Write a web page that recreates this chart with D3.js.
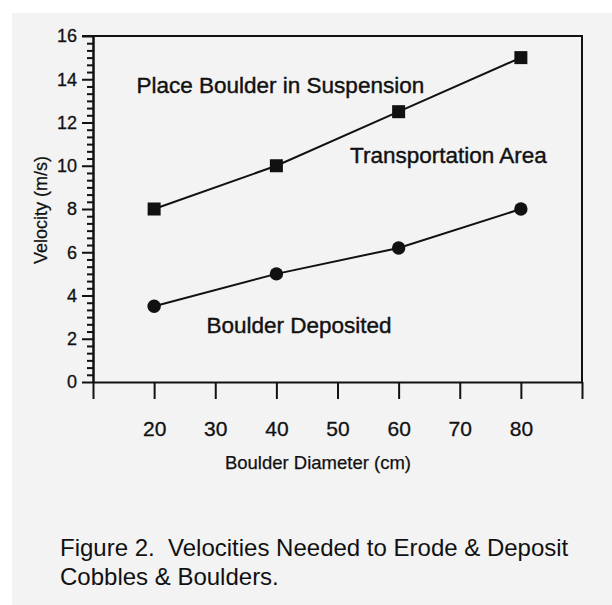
<!DOCTYPE html>
<html lang="en">
<head>
<meta charset="utf-8">
<script src="https://cdn.jsdelivr.net/npm/d3@7"></script>
<title>Velocities Needed to Erode & Deposit Cobbles & Boulders</title>
<style>
  body { margin: 0; background: #ffffff; }
  svg text { font-family: "Liberation Sans", Arial, sans-serif; fill: #111; }
  .axis path, .axis line { stroke: #111; stroke-width: 2; }
  .axis text { fill: #111; stroke: #111; stroke-width: 0.3; }
  .frame { stroke: #111; stroke-width: 2; fill: none; }
  .series { fill: none; stroke: #111; stroke-width: 2; }
  .title { stroke: #111; stroke-width: 0.25; }
  .note { font-size: 22.5px; stroke: #111; stroke-width: 0.4; }
  .caption { font-size: 24px; white-space: pre; }
</style>
</head>
<body>
<div id="chart"></div>
<script>
// data
var diameters = [20, 40, 60, 80];                  // cm
var suspensionVelocity = [8, 10, 12.5, 15];        // m/s, squares
var depositVelocity = [3.5, 5, 6.2, 8];            // m/s, circles
var xTickValues = [10, 20, 30, 40, 50, 60, 70, 80, 90];
var xTickLabels = ["", "20", "30", "40", "50", "60", "70", "80", ""];
var yTickValues = [0, 2, 4, 6, 8, 10, 12, 14, 16];
var yMinorTicks = d3.range(0, 48).map(function(i) { return i / 3; }).filter(function(d) { return Math.abs(d % 2) > 0.01; });
var notes = ["Place Boulder in Suspension", "Transportation Area", "Boulder Deposited"];
var captionLines = ["Figure 2.  Velocities Needed to Erode & Deposit", "Cobbles & Boulders."];

var W = 612, H = 605;
var margin = {top: 36, right: 30, bottom: 223, left: 93},
    width = W - margin.left - margin.right,
    height = H - margin.top - margin.bottom;

var svg = d3.select("#chart").append("svg")
    .attr("width", W)
    .attr("height", H);

// scanned page background
svg.append("rect")
    .attr("x", 12).attr("y", 13)
    .attr("width", W - 12).attr("height", H - 13)
    .attr("fill", "#f3f3f3");

var g = svg.append("g")
    .attr("transform", "translate(" + margin.left + "," + margin.top + ")");

var x = d3.scaleLinear().domain([10, 90]).range([0, width]);
var y = d3.scaleLinear().domain([0, 16]).range([height, 0]);

// frame top + right
g.append("path")
    .attr("class", "frame")
    .attr("d", "M-11,0H" + width + "V" + height);

// y axis: minor then major ticks
g.append("g")
    .attr("class", "axis")
    .call(d3.axisLeft(y).tickValues(yMinorTicks).tickSize(6).tickSizeOuter(0).tickFormat(""));

var yAxis = g.append("g")
    .attr("class", "axis")
    .call(d3.axisLeft(y).tickValues(yTickValues).tickSize(11).tickSizeOuter(0).tickPadding(5));
yAxis.selectAll("text").style("font-size", "18px");

// x axis
var xAxis = g.append("g")
    .attr("class", "axis")
    .attr("transform", "translate(0," + height + ")")
    .call(d3.axisBottom(x).tickValues(xTickValues).tickSize(17).tickSizeOuter(0).tickPadding(22)
        .tickFormat(function(d, i) { return xTickLabels[i]; }));
xAxis.selectAll("text").style("font-size", "21px");

// axis titles
svg.append("text")
    .attr("class", "title")
    .attr("transform", "translate(47,210) rotate(-90)")
    .attr("text-anchor", "middle")
    .style("font-size", "18px")
    .text("Velocity (m/s)");

svg.append("text")
    .attr("class", "title")
    .attr("x", 318).attr("y", 469)
    .attr("text-anchor", "middle")
    .style("font-size", "18.5px")
    .text("Boulder Diameter (cm)");

// series
var line = d3.line()
    .x(function(d) { return x(d[0]); })
    .y(function(d) { return y(d[1]); });

var upper = d3.zip(diameters, suspensionVelocity);
var lower = d3.zip(diameters, depositVelocity);

g.append("path").datum(upper).attr("class", "series").attr("d", line);
g.append("path").datum(lower).attr("class", "series").attr("d", line);

g.selectAll(".sq")
    .data(upper)
    .enter().append("rect")
    .attr("class", "sq")
    .attr("x", function(d) { return x(d[0]) - 6.5; })
    .attr("y", function(d) { return y(d[1]) - 6.5; })
    .attr("width", 13).attr("height", 13)
    .attr("fill", "#111");

g.selectAll(".dot")
    .data(lower)
    .enter().append("circle")
    .attr("class", "dot")
    .attr("cx", function(d) { return x(d[0]); })
    .attr("cy", function(d) { return y(d[1]); })
    .attr("r", 6.7)
    .attr("fill", "#111");

// region notes
var notePos = [[136.5, 93], [350, 163], [206.5, 333]];
svg.selectAll(".note")
    .data(notes)
    .enter().append("text")
    .attr("class", "note")
    .attr("x", function(d, i) { return notePos[i][0]; })
    .attr("y", function(d, i) { return notePos[i][1]; })
    .text(function(d) { return d; });

// caption
svg.selectAll(".caption")
    .data(captionLines)
    .enter().append("text")
    .attr("class", "caption")
    .attr("x", 60)
    .attr("y", function(d, i) { return 556 + i * 29; })
    .text(function(d) { return d; });
</script>
</body>
</html>
